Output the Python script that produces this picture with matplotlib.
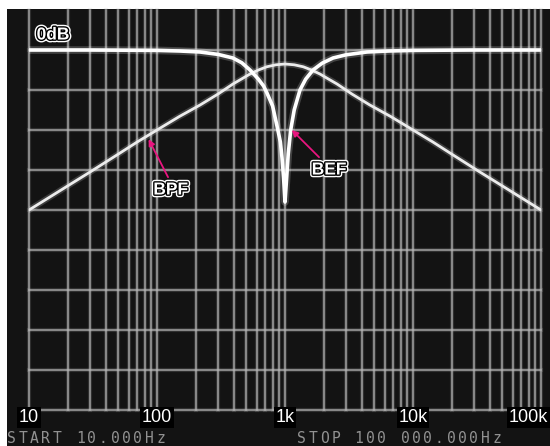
import matplotlib
matplotlib.use("Agg")
import matplotlib.pyplot as plt
import matplotlib.transforms as mtransforms
import matplotlib.patheffects as pe
from matplotlib.patches import Rectangle

# ---------------- data ----------------
bef_freq = [10, 30, 100, 150, 217, 300, 392, 460, 533, 620, 680, 723, 800, 866,
            920, 948, 975, 1000, 1030, 1060, 1108, 1180, 1309, 1450, 1655,
            1950, 2371, 3000, 4365, 6500, 10000, 30000, 100000]
bef_db = [0, 0, -0.1, -0.25, -0.5, -1.1, -2, -3.2, -5, -7.3, -9, -10.75, -14, -19,
          -23, -27, -32, -38, -32, -26, -20, -15, -10, -7.3, -5,
          -3.3, -2, -1.2, -0.5, -0.25, -0.1, 0, 0]

bpf_freq = [10, 20, 30, 50, 70, 100, 150, 217, 300, 392, 460, 533, 620, 720, 850,
            1000, 1180, 1390, 1610, 1875, 2170, 2550, 3330, 4600, 6670, 10000,
            14300, 20000, 33300, 50000, 100000]
bpf_db = [-40, -34, -30.5, -26, -23, -20, -16.6, -13.75, -11, -8.5, -7.2, -6, -5,
          -4.2, -3.7, -3.5, -3.7, -4.2, -5, -6, -7.2, -8.5, -11, -13.75, -16.6,
          -20, -23, -26, -30.5, -34, -40]

tick_values = [10, 100, 1000, 10000, 100000]
tick_labels = ["10", "100", "1k", "10k", "100k"]
db_levels = [0, -10, -20, -30, -40, -50, -60, -70, -80, -90]
start_text = "START 10.000Hz"
stop_text = "STOP 100 000.000Hz"

# ---------------- figure ----------------
W, H = 550, 446
fig = plt.figure(figsize=(W / 100, H / 100), dpi=100, facecolor="white")
bg = "#131313"
fig.patches.append(Rectangle((7 / W, 0), (W - 7) / W, (H - 9) / H,
                             transform=fig.transFigure, facecolor=bg,
                             edgecolor="none", zorder=-10))

ax = fig.add_axes([29 / W, 1 - 410 / H, 512 / W, 400 / H])
ax.set_zorder(1)
ax.patch.set_alpha(0)
ax.set_xscale("log")
ax.set_xlim(10, 100000)
ax.set_ylim(-90, 10)
for s in ax.spines.values():
    s.set_visible(False)
ax.set_xticks([])
ax.set_yticks([])
ax.minorticks_off()

# grid
grid_freqs = []
for e in range(1, 5):
    for m in range(1, 10):
        grid_freqs.append(m * 10 ** e)
grid_freqs.append(10 ** 5)
gcol = "#b8b8b8"
for f in grid_freqs:
    ax.axvline(f, color=gcol, lw=3.0, alpha=0.18, clip_on=False, zorder=1)
    ax.axvline(f, color=gcol, lw=1.1, alpha=0.85, clip_on=False, zorder=1)
for lvl in db_levels:
    ax.axhline(lvl, color=gcol, lw=3.0, alpha=0.18, clip_on=False, zorder=1)
    ax.axhline(lvl, color=gcol, lw=1.1, alpha=0.85, clip_on=False, zorder=1)

# curves
ax.plot(bpf_freq, bpf_db, color="white", lw=4.5, alpha=0.18, zorder=3,
        solid_capstyle="round")
ax.plot(bpf_freq, bpf_db, color="#ececec", lw=2.0, zorder=4,
        solid_capstyle="round")
ax.plot(bef_freq, bef_db, color="white", lw=5.5, alpha=0.2, zorder=3,
        solid_capstyle="round")
ax.plot(bef_freq, bef_db, color="white", lw=2.6, zorder=5,
        solid_capstyle="round")

# labels with outlined text
magenta = "#e8157f"
outline = [pe.Stroke(linewidth=4.0, foreground="white"),
           pe.Stroke(linewidth=2.0, foreground="black"),
           pe.Normal()]
lab_kw = dict(fontsize=12.5, fontweight="bold", family=["Liberation Sans", "DejaVu Sans"],
              color="white", ha="center", va="center", zorder=10,
              path_effects=outline)
ax.text(15.4, 3.75, "0dB", **lab_kw)
ax.text(128, -35, "BPF", **lab_kw)
ax.text(2208, -30, "BEF", **lab_kw)

arrow_kw = dict(arrowstyle="-|>", color=magenta, lw=1.3, mutation_scale=9,
                shrinkA=0, shrinkB=0)
ax.annotate("", xy=(86, -22.3), xytext=(122, -31.8), arrowprops=arrow_kw, zorder=9)
ax.annotate("", xy=(bef_freq[20] * 1.02, bef_db[20]), xytext=(1845, -26.8),
            arrowprops=arrow_kw, zorder=9)

# tick labels
blend = mtransforms.blended_transform_factory(ax.transData, fig.transFigure)
tick_kw = dict(fontsize=13, family=["Liberation Sans", "DejaVu Sans"],
               color="white", va="center",
               bbox=dict(facecolor="black", edgecolor="none", pad=1.2))
ypos = 1 - 417.5 / H
for v, t in zip(tick_values[:-1], tick_labels[:-1]):
    fig.text(v, ypos, t, transform=blend, ha="center", **tick_kw)
fig.text(548 / W, ypos, tick_labels[-1], transform=fig.transFigure,
         ha="right", **tick_kw)

# bottom status line (monospaced, wide character pitch)
stat_kw = dict(fontsize=10.5, family=["DejaVu Sans Mono"], color="#a8a8a8",
               va="bottom", ha="left", alpha=0.85)
pitch = 11.5
for x0, txt in ((7, start_text), (297, stop_text)):
    for i, ch in enumerate(txt):
        if ch != " ":
            fig.text((x0 + i * pitch) / W, 0.0, ch, **stat_kw)

fig.savefig("out.png", dpi=100, facecolor="white")
